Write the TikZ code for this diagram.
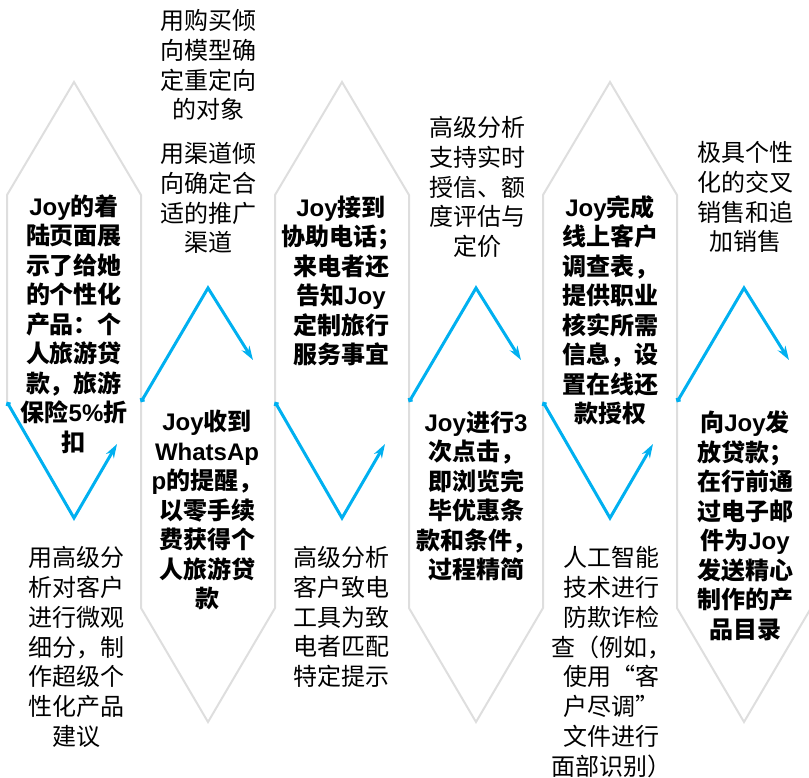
\documentclass[tikz,border=0pt]{standalone}
\usepackage{fontspec}
\setmainfont{Noto Sans CJK SC}
\newfontfamily\ar{Liberation Sans}
\usetikzlibrary{arrows.meta}
\definecolor{flowblue}{HTML}{00B0F0}
\definecolor{edgegray}{HTML}{DEDEDE}
\newcommand{\Jy}{{\ar Joy}}
\tikzset{
  boldtxt/.style={font=\fontsize{24}{29.5}\selectfont\bfseries, align=center, inner sep=0pt},
  regtxt/.style={font=\fontsize{24}{29.8}\selectfont, align=center, inner sep=0pt},
  outline/.style={draw=edgegray, line width=2pt, line join=miter},
  flow/.style={draw=flowblue, line width=3pt, line join=miter,
    {Circle[length=5pt]}-{Stealth[length=14pt,width=9pt]}}
}
\begin{document}
\begin{tikzpicture}[x=1pt,y=-1pt]
\useasboundingbox (0,0) rectangle (809,777);
% gray outlines: up shapes
\draw[outline] (7,402) -- (7,195) -- (74,82) -- (141,195) -- (141,402);
\draw[outline] (275,402) -- (275,195) -- (342,82) -- (409,195) -- (409,402);
\draw[outline] (543,402) -- (543,195) -- (610,82) -- (677,195) -- (677,402);
% gray outlines: down shapes
\draw[outline] (141,402) -- (141,608) -- (208,722) -- (275,608) -- (275,402);
\draw[outline] (409,402) -- (409,608) -- (476,722) -- (543,608) -- (543,402);
\draw[outline] (677,402) -- (677,608) -- (744,722) -- (811,608) -- (811,402);
% flow coordinates
\coordinate (a1) at (7,402);   \coordinate (b1) at (74,518);  \coordinate (c1) at (117,444);
\coordinate (a2) at (141,402); \coordinate (b2) at (208,288); \coordinate (c2) at (253,360);
\coordinate (a3) at (275,402); \coordinate (b3) at (342,518); \coordinate (c3) at (385,444);
\coordinate (a4) at (409,402); \coordinate (b4) at (476,288); \coordinate (c4) at (521,360);
\coordinate (a5) at (543,402); \coordinate (b5) at (610,518); \coordinate (c5) at (653,444);
\coordinate (a6) at (677,402); \coordinate (b6) at (744,288); \coordinate (c6) at (789,360);
\draw[flow] (a1) -- (b1) -- (c1);
\draw[flow] (a2) -- (b2) -- (c2);
\draw[flow] (a3) -- (b3) -- (c3);
\draw[flow] (a4) -- (b4) -- (c4);
\draw[flow] (a5) -- (b5) -- (c5);
\draw[flow] (a6) -- (b6) -- (c6);
% texts
\node[boldtxt] (t1) at (74,324) {\Jy 的着\\陆页面展\\示了给她\\的个性化\\产品：个\\人旅游贷\\款，旅游\\保险{\ar 5\%}折\\扣};
\node[regtxt] (t2) at (76,647) {用高级分\\析对客户\\进行微观\\细分，制\\作超级个\\性化产品\\建议};
\node[regtxt] (t3) at (208,65) {用购买倾\\向模型确\\定重定向\\的对象};
\node[regtxt] (t4) at (208,198) {用渠道倾\\向确定合\\适的推广\\渠道};
\node[boldtxt] (t5) at (207,510) {\Jy 收到\\{\ar WhatsAp}\\{\ar p}的提醒，\\以零手续\\费获得个\\人旅游贷\\款};
\node[boldtxt] (t6) at (341,281) {\Jy 接到\\协助电话；\\来电者还\\告知\Jy\\定制旅行\\服务事宜};
\node[regtxt] (t7) at (341,617) {高级分析\\客户致电\\工具为致\\电者匹配\\特定提示};
\node[regtxt] (t8) at (477,187) {高级分析\\支持实时\\授信、额\\度评估与\\定价};
\node[boldtxt] (t9) at (476,496) {\Jy 进行{\ar 3}\\次点击，\\即浏览完\\毕优惠条\\款和条件，\\过程精简};
\node[boldtxt] (t10) at (610,310) {\Jy 完成\\线上客户\\调查表，\\提供职业\\核实所需\\信息，设\\置在线还\\款授权};
\node[regtxt] (t11) at (611,662) {人工智能\\技术进行\\防欺诈检\\查（例如，\\使用“客\\户尽调”\\文件进行\\面部识别）};
\node[regtxt] (t12) at (745,197) {极具个性\\化的交叉\\销售和追\\加销售};
\node[boldtxt] (t13) at (745,526) {向\Jy 发\\放贷款；\\在行前通\\过电子邮\\件为\Jy\\发送精心\\制作的产\\品目录};
\end{tikzpicture}
\end{document}
